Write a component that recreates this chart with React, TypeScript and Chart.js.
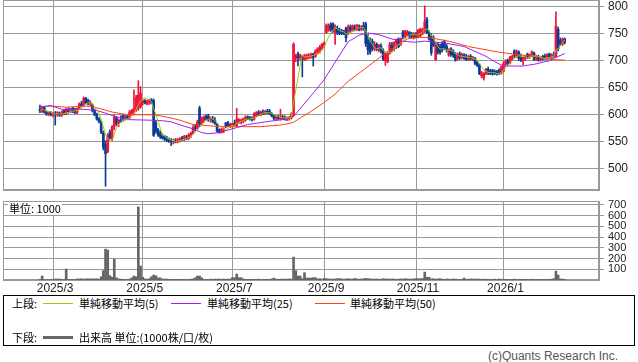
import React, { useEffect, useRef } from 'react';
import { Chart, registerables } from 'chart.js';

Chart.register(...registerables);

// ---- data ----
const monthIdx = [6, 47, 88, 130, 172, 212];
const monthLabels = ['2025/3', '2025/5', '2025/7', '2025/9', '2025/11', '2026/1'];
const priceTicks = [500, 550, 600, 650, 700, 750, 800];
const volumeTicks = [100, 200, 300, 400, 500, 600, 700];

const open = [
  610,606,613,605,601,604,601,603,600,603,
  599,608,602,610,606,612,607,604,612,620,
  617,630,627,620,618,608,600,592,587,566,
  545,532,568,556,578,594,584,590,599,594,
  597,595,600,604,610,612,615,622,626,620,
  624,627,626,585,572,566,562,559,556,553,
  552,550,552,550,553,556,554,558,556,562,
  566,576,575,612,584,590,597,598,591,592,
  590,582,570,568,571,585,585,578,580,584,
  580,588,586,588,590,596,594,592,592,598,
  604,600,605,602,606,607,602,598,594,596,
  593,596,594,592,593,595,600,705,712,706,
  708,702,705,706,709,712,708,714,718,722,
  728,752,756,766,768,752,760,755,755,752,
  760,752,762,756,760,758,762,758,764,768,
  738,732,736,722,730,720,727,718,700,698,
  714,728,722,733,740,730,752,744,748,752,
  746,742,750,744,746,752,756,776,752,745,
  742,702,730,726,732,735,726,710,722,718,
  712,704,712,706,710,706,702,708,703,704,
  696,692,672,668,676,684,680,682,680,679,
  682,677,680,694,700,696,702,718,708,716,
  706,700,704,712,708,710,714,704,708,702,
  708,708,704,712,706,710,708,758,738,730,
  740,
];
const high = [
  618,616,614,607,606,606,604,606,606,605,
  607,610,612,613,612,614,612,613,622,625,
  633,632,629,626,620,610,603,595,590,570,
  552,565,572,580,600,597,592,598,600,600,
  599,608,610,646,636,663,652,628,628,627,
  629,630,629,590,575,570,565,562,560,557,
  556,555,556,556,558,560,562,562,565,568,
  580,582,590,616,596,598,600,601,596,597,
  595,584,574,575,576,586,588,584,585,590,
  612,593,592,594,598,598,597,596,604,606,
  608,607,609,608,610,610,604,600,598,599,
  610,599,598,596,597,604,733,712,716,712,
  710,712,712,713,714,714,720,724,728,732,
  735,768,768,770,770,766,764,760,758,756,
  762,766,766,766,766,767,766,765,771,771,
  750,742,740,735,733,730,731,722,714,716,
  734,734,735,740,742,742,756,756,756,754,
  752,752,752,758,760,760,801,780,755,750,
  746,735,732,730,735,738,730,722,724,720,
  715,714,716,714,713,712,710,711,708,706,
  700,694,680,678,686,688,684,684,683,682,
  685,690,698,702,703,708,710,720,720,718,
  712,706,710,714,712,718,716,710,710,707,
  710,712,713,714,713,716,790,762,742,742,
  742,
];
const low = [
  604,604,603,599,598,598,596,581,597,597,
  597,600,600,603,604,604,602,602,610,615,
  615,620,618,617,605,598,590,585,565,535,
  468,530,555,552,572,580,578,586,588,590,
  592,593,598,600,606,608,612,618,620,618,
  619,620,560,566,560,556,555,552,550,549,
  543,546,548,548,550,552,552,554,554,558,
  564,570,573,578,582,586,590,588,586,585,
  582,568,566,566,567,576,578,576,577,580,
  578,584,583,585,588,591,590,588,590,596,
  598,598,600,600,602,600,596,591,590,591,
  590,591,590,589,590,592,597,698,690,700,
  670,700,702,703,704,690,706,712,714,720,
  724,750,754,754,752,730,748,748,748,748,
  735,748,752,754,755,756,755,755,756,726,
  711,712,718,718,718,716,714,700,691,696,
  712,716,718,722,724,728,740,742,746,742,
  742,740,742,742,744,748,752,750,738,710,
  726,700,712,712,716,720,716,708,708,706,
  699,700,702,703,702,700,700,701,700,692,
  689,674,668,664,674,674,674,673,674,673,
  674,675,679,690,692,694,700,706,706,700,
  698,692,700,704,704,708,700,700,699,699,
  701,702,702,704,703,706,706,718,728,728,
  731,
];
const close = [
  607,614,605,601,604,600,602,600,604,599,
  605,601,610,606,611,605,604,612,620,617,
  630,622,620,623,607,600,592,588,568,540,
  528,562,558,578,596,584,590,588,593,596,
  594,605,608,612,632,636,640,625,622,625,
  626,622,562,570,563,560,557,555,553,551,
  550,552,550,555,556,554,560,556,563,566,
  576,574,586,582,594,596,592,591,594,588,
  584,570,568,573,574,578,580,582,583,582,
  592,591,589,592,595,593,592,591,602,604,
  602,605,602,606,604,602,598,593,596,593,
  597,594,592,594,595,600,730,708,705,709,
  702,709,710,711,711,706,718,722,725,730,
  732,765,766,758,755,762,752,750,751,750,
  742,762,756,764,758,765,758,763,760,732,
  720,716,722,730,721,727,718,703,712,714,
  730,720,733,738,726,740,744,754,753,745,
  744,750,744,756,758,756,772,752,740,715,
  728,732,716,715,720,724,720,720,712,710,
  702,712,706,711,704,702,708,703,706,695,
  692,676,677,675,684,678,676,675,676,675,
  677,688,694,699,695,706,708,710,717,704,
  702,705,708,707,710,716,702,708,702,705,
  703,704,711,706,710,708,764,722,731,739,
  734,
];
const volume = [
  5,37,4,6,3,5,4,9,9,9,
  4,5,102,6,4,5,3,10,9,11,
  8,10,12,9,11,10,12,8,30,87,
  287,278,40,25,192,20,10,8,6,5,
  6,8,20,37,30,680,130,25,10,8,
  12,30,46,40,20,20,9,9,9,6,
  5,4,6,7,6,5,6,4,5,8,
  10,20,37,37,20,6,4,5,8,6,
  9,8,9,7,9,6,9,8,22,22,
  55,22,22,10,6,5,6,4,5,6,
  8,4,5,6,6,5,10,18,8,6,
  8,9,8,8,10,8,213,87,37,37,
  12,68,18,18,18,22,22,10,12,8,
  15,12,10,9,8,10,12,14,9,8,
  10,12,8,9,14,10,8,9,12,15,
  12,10,9,8,10,6,8,12,9,10,
  8,10,9,6,8,10,8,12,10,8,
  9,10,12,12,12,14,74,25,25,10,
  12,8,10,12,8,6,9,8,6,10,
  8,6,5,6,18,6,8,9,9,9,
  8,9,6,8,7,5,6,5,8,4,
  9,6,8,5,6,4,5,8,6,5,
  6,4,5,6,4,7,5,4,6,5,
  4,5,6,5,8,12,83,46,10,8,
  6,
];
const ma25Day = [0,5,10,20,26,30,34,40,50,56,60,65,70,74,77,82,88,95,105,113,116,120,124,130,135,141,146,150,155,161,166,171,176,186,194,199,204,208,212,221,227,233,236,240];
const ma25Value = [614,617,610,610,608,603,597,591,590,589,587,580,574,567,565,567,574,582,588,592,597,616,635,665,697,735,747,751,748,740,736,734,736,732,726,717,708,698,690,690,694,700,706,713];
const ma50Day = [0,5,12,21,27,33,40,50,55,60,64,70,74,82,91,101,110,114,116,119,124,129,135,141,150,158,165,168,173,179,188,196,204,211,219,227,234,240];
const ma50Value = [615,616,614,616,612,605,600,600,598,594,590,582,581,578,578,578,581,584,586,594,606,620,638,662,689,714,732,740,743,742,735,726,720,715,711,707,702,701];

// ---- styles ----
const X_MIN = -16.9;
const X_MAX = 255.7;
const GRID = '#999999';
const UP = '#f0143c';
const DOWN = '#0a3c96';
const MA5C = '#9fcb00';
const MA25C = '#a020f0';
const MA50C = '#ff4010';
const VOLC = '#666666';
const TICK_FONT = '"Liberation Sans", Arial, sans-serif';
const JP_FONT = '"Noto Sans CJK JP", "Liberation Sans", sans-serif';

const framePlugin = {
  id: 'frame',
  beforeDatasetsDraw(chart: any) {
    const { ctx, chartArea: a } = chart;
    ctx.save();
    ctx.strokeStyle = GRID;
    ctx.lineWidth = 1;
    const l = Math.round(a.left) + 0.5;
    const t = Math.round(a.top) + 0.5;
    const r = Math.round(a.right) - 0.5;
    const b = Math.round(a.bottom) - 0.5;
    ctx.strokeRect(l, t, r - l, b - t);
    ctx.restore();
  },
};

function xScale(showLabels: boolean) {
  return {
    type: 'linear',
    min: X_MIN,
    max: X_MAX,
    offset: false,
    afterBuildTicks: (s: any) => {
      s.ticks = monthIdx.map((v) => ({ value: v }));
    },
    afterFit: (s: any) => {
      if (showLabels) s.height = 15;
      s.paddingLeft = 0;
      s.paddingRight = 0;
    },
    ticks: {
      display: showLabels,
      autoSkip: false,
      maxRotation: 0,
      padding: 1,
      labelOffset: 2,
      color: '#222',
      font: { family: TICK_FONT, size: 12 },
      callback: (v: number) => {
        const k = monthIdx.indexOf(v);
        return k >= 0 ? monthLabels[k] : '';
      },
    },
    grid: { color: GRID, drawTicks: false, offset: false },
    border: { color: GRID },
  };
}

function yScale(min: number, max: number, ticks: number[], size: number) {
  return {
    type: 'linear',
    position: 'right',
    min,
    max,
    afterBuildTicks: (s: any) => {
      s.ticks = ticks.map((v) => ({ value: v }));
    },
    afterFit: (s: any) => {
      s.width = 39;
      s.paddingTop = 0;
      s.paddingBottom = 0;
    },
    ticks: {
      autoSkip: false,
      padding: 4,
      color: '#222',
      font: { family: TICK_FONT, size },
    },
    grid: { color: GRID, tickLength: 5 },
    border: { color: GRID },
  };
}

export default function App() {
  const priceRef = useRef<HTMLCanvasElement>(null);
  const volRef = useRef<HTMLCanvasElement>(null);

  useEffect(() => {
    const colors = open.map((o, i) => (close[i] >= o ? UP : DOWN));
    const ma5 = close.map((_, i) => {
      const w = close.slice(Math.max(0, i - 4), i + 1);
      return { x: i, y: w.reduce((a, b) => a + b, 0) / w.length };
    });
    const ma25 = ma25Day.map((d, k) => ({ x: d, y: ma25Value[k] }));
    const ma50 = ma50Day.map((d, k) => ({ x: d, y: ma50Value[k] }));

    const price = new Chart(priceRef.current as HTMLCanvasElement, {
      type: 'bar',
      data: {
        datasets: [
          { type: 'line', data: ma5, borderColor: MA5C, borderWidth: 1, pointRadius: 0, order: 1 },
          { type: 'line', data: ma25, borderColor: MA25C, borderWidth: 1, pointRadius: 0, order: 2 },
          { type: 'line', data: ma50, borderColor: MA50C, borderWidth: 1, pointRadius: 0, order: 3 },
          {
            type: 'bar',
            data: open.map((o, i) => ({ x: i, y: [o, close[i]] })),
            backgroundColor: colors,
            barThickness: 2,
            maxBarThickness: 2,
            grouped: false,
            minBarLength: 1,
            order: 4,
          },
          {
            type: 'bar',
            data: low.map((l, i) => ({ x: i, y: [l, high[i]] })),
            backgroundColor: colors,
            barThickness: 1,
            maxBarThickness: 1,
            grouped: false,
            order: 5,
          },
        ],
      } as any,
      options: {
        animation: false,
        responsive: false,
        devicePixelRatio: 1,
        layout: { padding: { left: 3, top: 0, right: 0, bottom: 1 } },
        plugins: { legend: { display: false }, tooltip: { enabled: false } },
        scales: {
          x: xScale(false),
          y: yScale(461, 812, priceTicks, 12),
        } as any,
      },
      plugins: [framePlugin],
    });

    const vol = new Chart(volRef.current as HTMLCanvasElement, {
      type: 'bar',
      data: {
        datasets: [
          {
            data: volume.map((v, i) => ({ x: i, y: v })),
            backgroundColor: VOLC,
            barThickness: 2,
          },
        ],
      } as any,
      options: {
        animation: false,
        responsive: false,
        devicePixelRatio: 1,
        layout: { padding: { left: 3, top: 1, right: 0, bottom: 0 } },
        plugins: { legend: { display: false }, tooltip: { enabled: false } },
        scales: {
          x: xScale(true),
          y: yScale(0, 735, volumeTicks, 11),
        } as any,
      },
      plugins: [framePlugin],
    });

    return () => {
      price.destroy();
      vol.destroy();
    };
  }, []);

  const legendText: React.CSSProperties = {
    position: 'absolute',
    fontFamily: JP_FONT,
    fontSize: 11,
    lineHeight: '14px',
    color: '#000',
    whiteSpace: 'nowrap',
  };
  const line = (left: number, top: number, color: string, h: number): React.CSSProperties => ({
    position: 'absolute',
    left,
    top,
    width: 30,
    height: h,
    background: color,
  });

  return (
    <div style={{ position: 'absolute', left: 0, top: 0, width: 638, height: 362, background: '#fff', overflow: 'hidden' }}>
      <canvas ref={priceRef} width={638} height={191} style={{ position: 'absolute', left: 0, top: 0 }} />
      <canvas ref={volRef} width={638} height={95} style={{ position: 'absolute', left: 0, top: 200 }} />
      <div style={{ ...legendText, left: 8, top: 202, background: '#fff', padding: '0 1px', lineHeight: '13px' }}>単位: 1000</div>
      <div style={{ position: 'absolute', left: 3, top: 295, width: 632, height: 51, border: '1px solid #000', boxSizing: 'border-box' }}>
        <div style={{ ...legendText, left: 8, top: 0 }}>上段:</div>
        <div style={line(39, 7, MA5C, 1)} />
        <div style={{ ...legendText, left: 75, top: 0 }}>単純移動平均(5)</div>
        <div style={line(167, 7, MA25C, 1)} />
        <div style={{ ...legendText, left: 203, top: 0 }}>単純移動平均(25)</div>
        <div style={line(311, 7, MA50C, 1)} />
        <div style={{ ...legendText, left: 346, top: 0 }}>単純移動平均(50)</div>
        <div style={{ ...legendText, left: 8, top: 34 }}>下段:</div>
        <div style={line(39, 40, VOLC, 3)} />
        <div style={{ ...legendText, left: 75, top: 34 }}>出来高 単位:(1000株/口/枚)</div>
      </div>
      <div style={{ position: 'absolute', right: 20, top: 349, fontFamily: TICK_FONT, fontSize: 12, color: '#555', whiteSpace: 'nowrap' }}>(c)Quants Research Inc.</div>
    </div>
  );
}
